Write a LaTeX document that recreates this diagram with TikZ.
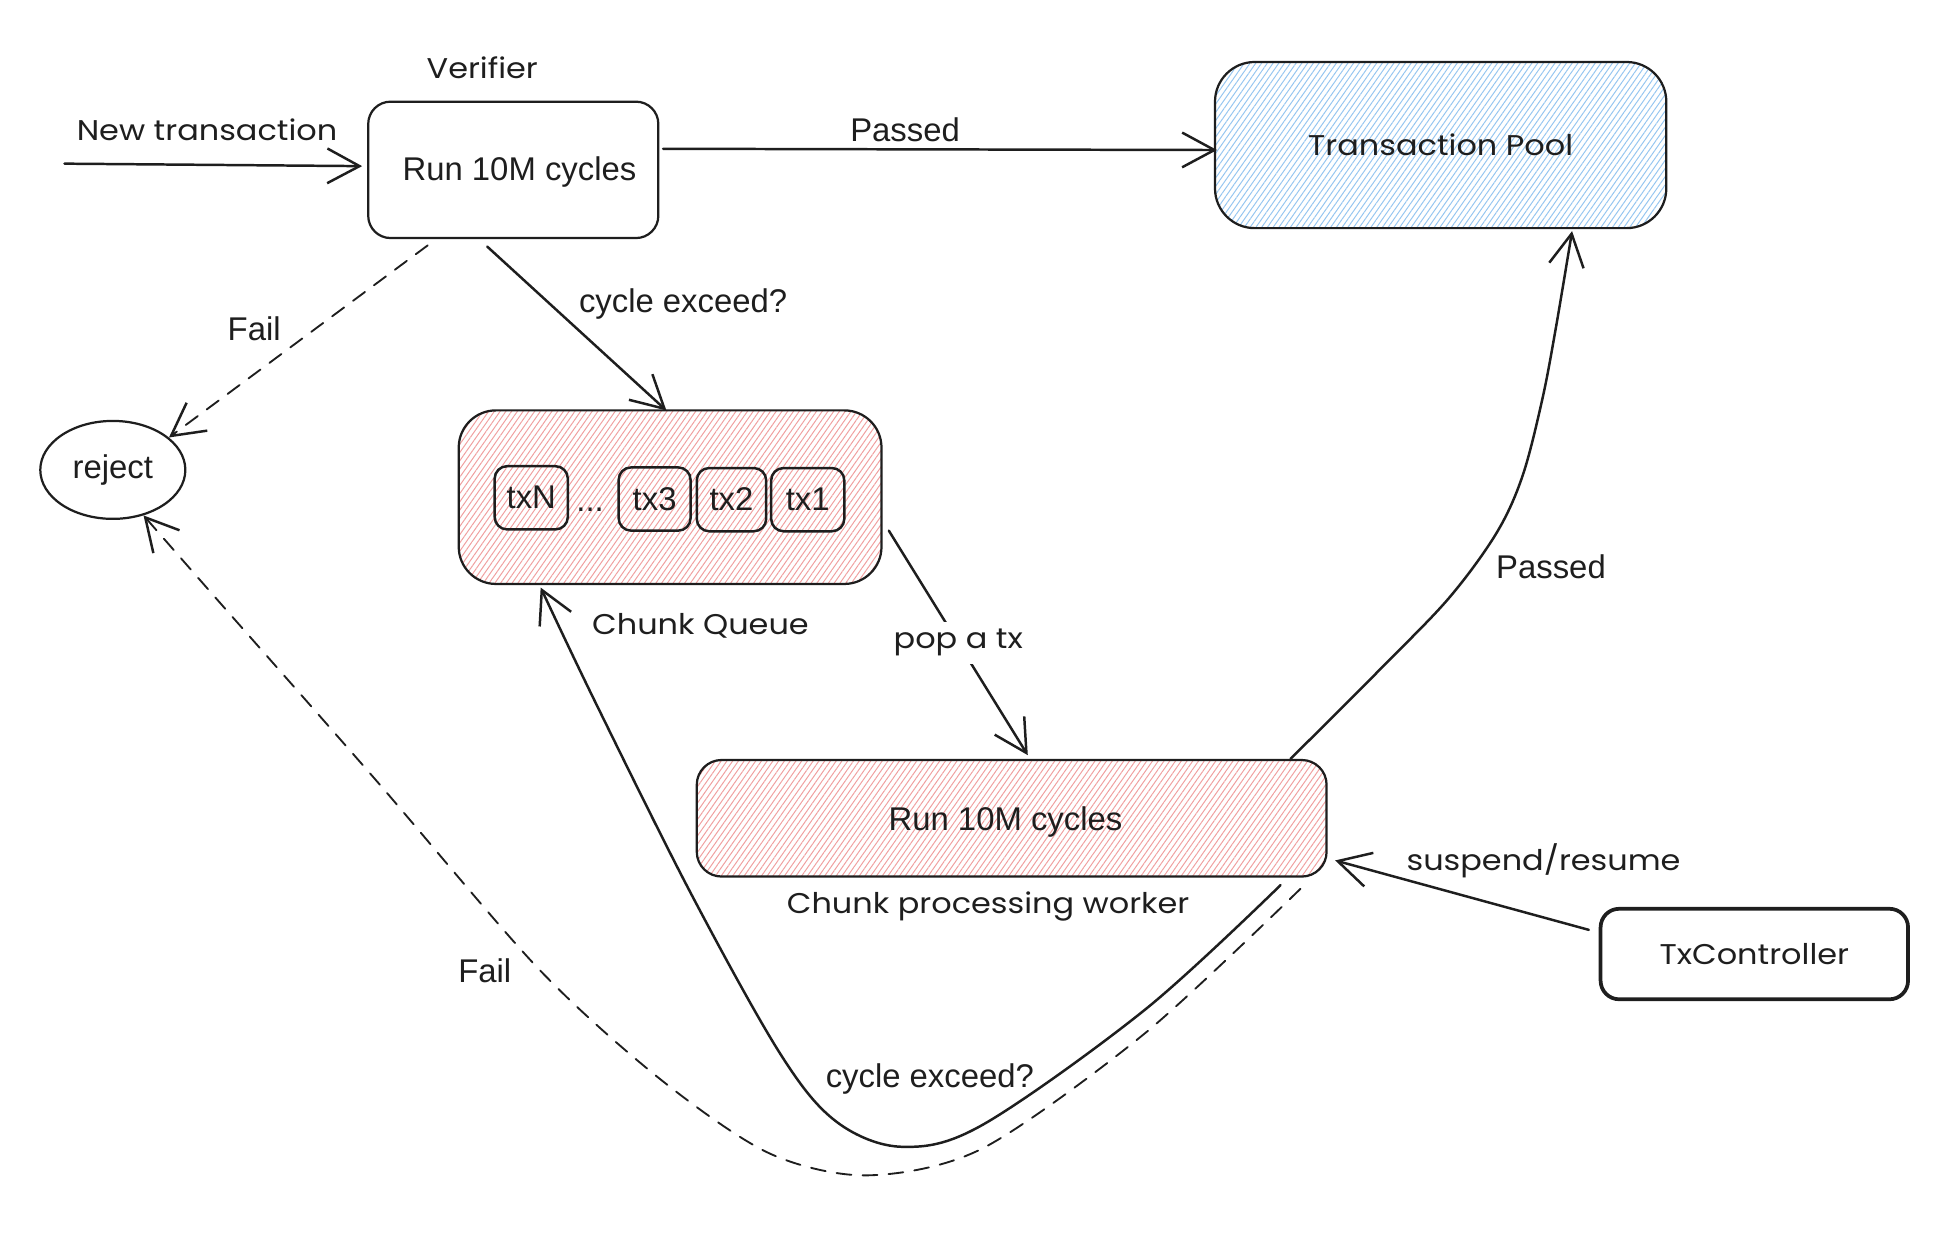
\documentclass[tikz,border=0pt]{standalone}
\usepackage{fontspec}
\setmainfont{Liberation Sans}
\newfontfamily\hand[FakeStretch=1.12]{Poppins}
\usetikzlibrary{arrows.meta,patterns.meta,shapes.geometric,calc}
\definecolor{ink}{HTML}{1E1E1E}
\definecolor{hred}{HTML}{F0A0A0}
\definecolor{hblue}{HTML}{96C6F0}
\begin{document}
\begin{tikzpicture}[x=1pt,y=-1pt,
  every node/.style={text=ink},
  box/.style={draw=ink, line width=1.8pt, rounded corners=#1, inner sep=0pt},
  redhatch/.style={pattern={Lines[angle=55,distance=3.8pt,line width=0.8pt]}, pattern color=hred},
  bluehatch/.style={pattern={Lines[angle=55,distance=3.8pt,line width=0.8pt]}, pattern color=hblue},
  conn/.style={draw=ink, line width=2pt, line cap=round, -{Straight Barb[length=26pt,width=28pt,line width=2pt]}},
  dconn/.style={conn, line width=1.5pt, dash pattern=on 12pt off 9pt},
  lbl/.style={font=\fontsize{26.5}{30}\selectfont},
  hlbl/.style={font=\hand\fontsize{23}{27}\selectfont},
]
\useasboundingbox (0,0) rectangle (1568,994);

% boxes
\node[box=18pt, minimum width=234pt, minimum height=110pt] (verifier) at (414,137) {};
\node[lbl] (vertext) at (419,139) {Run 10M cycles};
\node[box=32pt, bluehatch, minimum width=364pt, minimum height=134pt, hlbl] (pool) at (1162,117) {Transaction Pool};
\node[draw=ink, line width=1.8pt, ellipse, minimum width=117pt, minimum height=79pt, inner sep=0pt, lbl] (reject) at (91,379) {reject};
\node[box=30pt, redhatch, minimum width=341pt, minimum height=140pt] (queue) at (540.5,401) {};
\node[box=10pt, line width=2pt, minimum width=59pt, minimum height=51pt, lbl] (txN) at (428.5,401.5) {txN};
\node[box=10pt, line width=2pt, minimum width=58pt, minimum height=51pt, lbl] (tx3) at (528,402.5) {tx3};
\node[box=10pt, line width=2pt, minimum width=56pt, minimum height=51pt, lbl] (tx2) at (590,403) {tx2};
\node[box=10pt, line width=2pt, minimum width=59pt, minimum height=51pt, lbl] (tx1) at (651.5,403) {tx1};
\node[lbl] (dots) at (476,411) {...};
\node[box=20pt, redhatch, minimum width=508pt, minimum height=94pt] (worker) at (816,660) {};
\node[lbl] (worktext) at (811,663) {Run 10M cycles};
\node[box=15pt, line width=3pt, minimum width=248pt, minimum height=73pt, hlbl] (txc) at (1415,769.5) {TxController};

% labels
\node[hlbl] (verlbl) at (389,55) {Verifier};
\node[hlbl] (ntlbl) at (167,105) {New transaction};
\node[lbl] (p1) at (730,105) {Passed};
\node[lbl] (f1) at (205,265) {Fail};
\node[lbl] (ce1) at (551,245) {cycle exceed?};
\node[hlbl] (cqlbl) at (565,505) {Chunk Queue};
\node[hlbl] (cpwlbl) at (797,731) {Chunk processing worker};
\node[lbl] (p2) at (1251,457) {Passed};
\node[hlbl] (srlbl) at (1245,694) {suspend/resume};
\node[lbl] (f2) at (391,783) {Fail};
\node[lbl] (ce2) at (750,870) {cycle exceed?};

% connectors
\coordinate (ntS) at (52,132);
\draw[conn] (ntS) -- ($(verifier.west)+(-4,-3)$);
\draw[conn] ($(verifier.east)+(3,-17)$) -- ($(pool.west)+(2,4)$);
\draw[dconn] ($(verifier.south)+(-69,5)$) -- (reject.30);
\draw[conn] ($(verifier.south)+(-21,6)$) -- ($(queue.north)+(-3,1)$);
\draw[conn] ($(queue.east)+(5,27)$) -- node[hlbl, fill=white, inner sep=6pt] (poplbl) {pop a tx} ($(worker.north)+(13,-3)$);
\draw[conn] (txc.west) ++(-8,-19.5) -- ($(worker.east)+(6,34)$);

\coordinate (psS) at ($(worker.north east)+(-30,0)$);
\coordinate (psE) at ($(pool.south)+(106,2)$);
\draw[conn] plot[smooth, tension=0.55] coordinates {(psS) (1116,537) (1169,482) (1207,430) (1228,384) (1244,322) (1255,264) (psE)};

\coordinate (ceS) at ($(worker.south east)+(-38,6)$);
\coordinate (ceE) at ($(queue.south west)+(67,2)$);
\draw[conn] plot[smooth, tension=0.55] coordinates {(ceS) (924,814) (793,907) (728,925) (675,905) (630,851) (558,722) (480,566) (ceE)};

\coordinate (fS) at ($(worker.south east)+(-22,9)$);
\draw[dconn] plot[smooth, tension=0.5] coordinates {(fS) (924,833) (793,926) (700,948) (620,930) (532,870) (434,781) (303,629) (172,480) (reject.-56)};
\end{tikzpicture}
\end{document}
